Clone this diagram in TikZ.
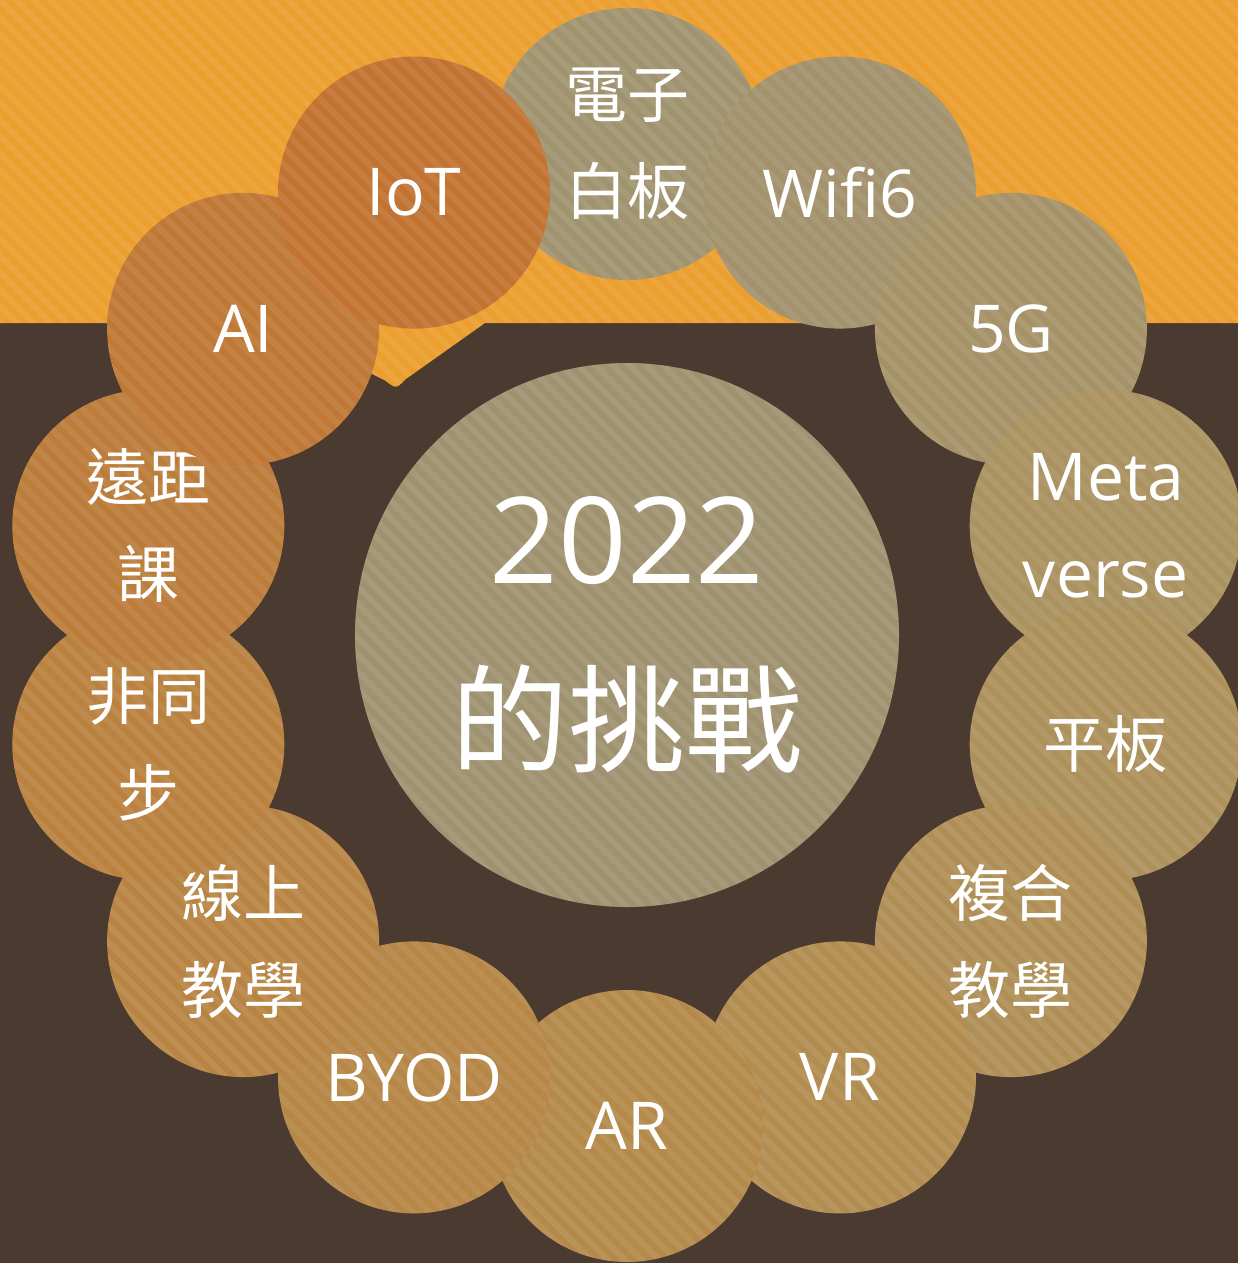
\documentclass[tikz,border=0pt]{standalone}
\usepackage{fontspec}
\setmainfont{Open Sans}
\newfontfamily\cjk{Noto Sans CJK TC}

\definecolor{bark}{HTML}{4A3A30}
\definecolor{sand}{HTML}{EB9F2E}
\definecolor{hub}{HTML}{9F9270}
\definecolor{ring1}{HTML}{A0936F}
\definecolor{ring2}{HTML}{A3926D}
\definecolor{ring3}{HTML}{A69268}
\definecolor{ring4}{HTML}{AA9261}
\definecolor{ring5}{HTML}{AD915B}
\definecolor{ring6}{HTML}{AF8F56}
\definecolor{ring7}{HTML}{B28D51}
\definecolor{ring8}{HTML}{B48A4B}
\definecolor{ring9}{HTML}{B68747}
\definecolor{ring10}{HTML}{B88443}
\definecolor{ring11}{HTML}{BA813F}
\definecolor{ring12}{HTML}{BC7D3B}
\definecolor{ring13}{HTML}{BF7836}
\definecolor{ring14}{HTML}{C27331}

% diagonal stripes, drawn inside a path picture
\newcommand{\hatch}[1]{%
  \foreach \i [evaluate=\i as \k using 17*\i] in {-#1,...,#1}
    \draw[stripe] ([shift={(\k-#1*17,-#1*17)}]path picture bounding box.center) -- ++(#1*34,#1*34);}

\tikzset{
  stripe/.style={white, opacity=0.075, line width=6pt},
  bubble/.style={circle, minimum size=272pt, inner sep=0pt, text=white, align=center,
    font=\fontsize{66}{97}\selectfont, path picture={\hatch{12}}},
  zh/.style={font=\cjk\fontsize{62}{97}\selectfont},
  core/.style={circle, minimum size=544pt, inner sep=0pt, text=white, align=center,
    font=\fontsize{120}{180}\selectfont, fill=hub, path picture={\hatch{23}}}
}

\begin{document}
\begin{tikzpicture}[x=1pt,y=-1pt]
	\useasboundingbox (0,0) rectangle (1238,1263);
	\fill[bark] (0,0) rectangle (1238,1263);
	% orange band with its pointer
	\path[fill=sand, path picture={\hatch{48}}] (0,0) -- (1238,0) -- (1238,323) -- (485,323)
		-- (405.8,379.1) .. controls (396,389) .. (385.3,380.6) -- (270,323) -- (0,323) -- cycle;
	% centre
	\node[core] (year) at (627,635) {2022\\{\cjk\fontsize{117}{180}\selectfont 的挑戰}};
	% ring, clockwise from the top
	\node[bubble, zh, fill=ring1] (board) at (627,144) {電子\\白板};
	\node[bubble, fill=ring2] (wifi) at (840,192.6) {Wifi6};
	\node[bubble, fill=ring3] (fiveg) at (1010.9,328.9) {5G};
	\node[bubble, fill=ring4] (meta) at (1105.7,525.7) {Meta\\verse};
	\node[bubble, zh, fill=ring5] (tablet) at (1105.7,744.3) {平板};
	\node[bubble, zh, fill=ring6] (hybrid) at (1010.9,941.1) {複合\\教學};
	\node[bubble, fill=ring7] (vr) at (840,1077.4) {VR};
	\node[bubble, fill=ring8] (ar) at (627,1126) {AR};
	\node[bubble, fill=ring9] (byod) at (414,1077.4) {BYOD};
	\node[bubble, zh, fill=ring10] (online) at (243.1,941.1) {線上\\教學};
	\node[bubble, zh, fill=ring11] (async) at (148.3,744.3) {非同\\步};
	\node[bubble, zh, fill=ring12] (remote) at (148.3,525.7) {遠距\\課};
	\node[bubble, fill=ring13] (ai) at (243.1,328.9) {AI};
	\node[bubble, fill=ring14] (iot) at (414,192.6) {IoT};
\end{tikzpicture}
\end{document}
